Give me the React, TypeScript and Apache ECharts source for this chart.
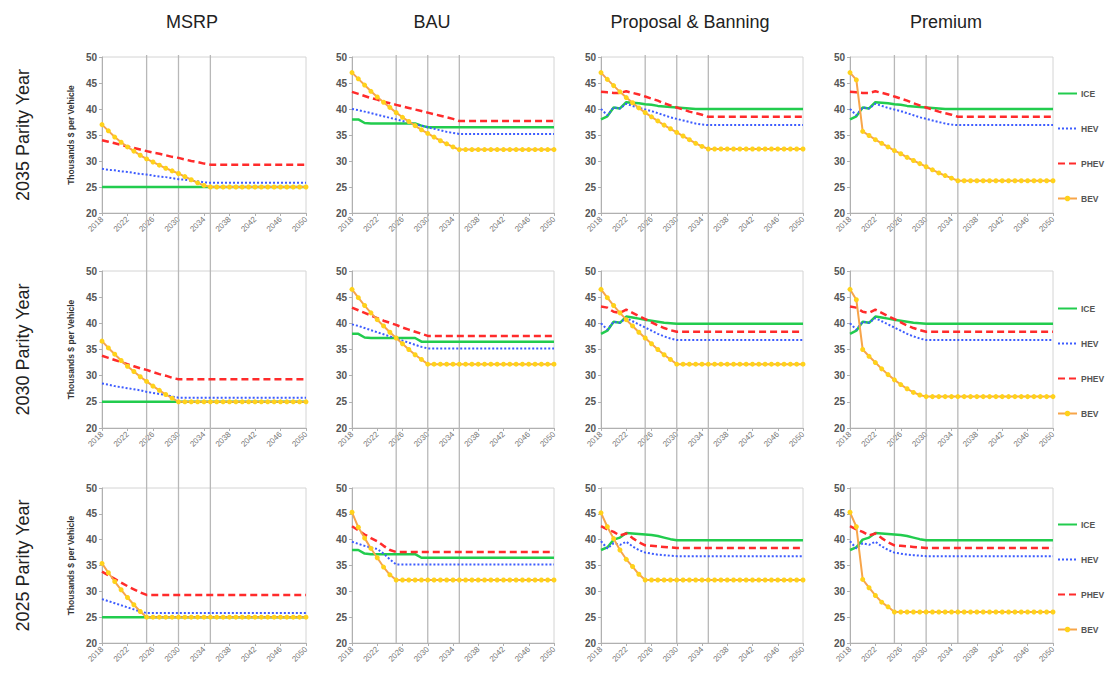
import React, { useEffect, useRef } from "react";
import * as echarts from "echarts";

// Model years on the horizontal axis
const YEARS = [
  "2018", "2019", "2020", "2021", "2022", "2023", "2024", "2025", "2026", "2027", "2028",
  "2029", "2030", "2031", "2032", "2033", "2034", "2035", "2036", "2037", "2038", "2039",
  "2040", "2041", "2042", "2043", "2044", "2045", "2046", "2047", "2048", "2049", "2050",
];
const SCENARIOS = ["MSRP", "BAU", "Proposal & Banning", "Premium"];
const ROW_LABELS = ["2035 Parity Year", "2030 Parity Year", "2025 Parity Year"];
const SERIES_NAMES = ["ICE", "HEV", "PHEV", "BEV"];
const MARKER_YEARS = ["2025", "2030", "2035"];
const Y_MIN = 20;
const Y_MAX = 50;
const Y_STEP = 5;

// ---- MSRP (all parity years share the flat ICE price) ----
const ICE_MSRP = [
  25, 25, 25, 25, 25, 25, 25, 25, 25, 25, 25, 25, 25, 25, 25, 25, 25, 25, 25, 25, 25, 25, 25, 25, 25, 25, 25, 25, 25, 25, 25, 25, 25,
];

// ---- 2035 parity year ----
const HEV_MSRP_35 = [
  28.5, 28.3, 28.2, 28.0, 27.9, 27.7, 27.5, 27.4, 27.2, 27.0, 26.9, 26.7, 26.5, 26.4, 26.2, 26.1, 25.9, 25.8,
  25.8, 25.8, 25.8, 25.8, 25.8, 25.8, 25.8, 25.8, 25.8, 25.8, 25.8, 25.8, 25.8, 25.8, 25.8,
];
const PHEV_MSRP_35 = [
  34.0, 33.7, 33.4, 33.1, 32.8, 32.5, 32.2, 31.9, 31.6, 31.4, 31.1, 30.8, 30.6, 30.3, 30.0, 29.8, 29.5, 29.3,
  29.3, 29.3, 29.3, 29.3, 29.3, 29.3, 29.3, 29.3, 29.3, 29.3, 29.3, 29.3, 29.3, 29.3, 29.3,
];
const BEV_MSRP_35 = [
  37.0, 35.8, 34.6, 33.6, 32.7, 31.9, 31.1, 30.4, 29.8, 29.2, 28.6, 28.1, 27.6, 27.0, 26.4, 25.8, 25.3, 25.0,
  25.0, 25.0, 25.0, 25.0, 25.0, 25.0, 25.0, 25.0, 25.0, 25.0, 25.0, 25.0, 25.0, 25.0, 25.0,
];
const ICE_BAU_35 = [
  38.0, 38.0, 37.3, 37.2, 37.2, 37.2, 37.2, 37.2, 37.2, 37.2, 37.2, 36.8,
  36.5, 36.5, 36.5, 36.5, 36.5, 36.5, 36.5, 36.5, 36.5, 36.5, 36.5, 36.5, 36.5, 36.5, 36.5, 36.5, 36.5, 36.5, 36.5, 36.5, 36.5,
];
const HEV_BAU_35 = [
  40.0, 39.8, 39.5, 39.2, 38.9, 38.6, 38.3, 38.0, 37.7, 37.4, 37.1, 36.8, 36.5, 36.2, 35.9, 35.6, 35.4, 35.2,
  35.2, 35.2, 35.2, 35.2, 35.2, 35.2, 35.2, 35.2, 35.2, 35.2, 35.2, 35.2, 35.2, 35.2, 35.2,
];
const PHEV_BAU_35 = [
  43.3, 42.9, 42.5, 42.1, 41.8, 41.4, 41.1, 40.8, 40.5, 40.2, 39.9, 39.6, 39.3, 39.0, 38.7, 38.4, 38.1, 37.7,
  37.7, 37.7, 37.7, 37.7, 37.7, 37.7, 37.7, 37.7, 37.7, 37.7, 37.7, 37.7, 37.7, 37.7, 37.7,
];
const BEV_BAU_35 = [
  47.0, 45.8, 44.6, 43.4, 42.3, 41.3, 40.3, 39.3, 38.4, 37.6, 36.8, 36.0, 35.3, 34.6, 33.9, 33.3, 32.7, 32.2,
  32.2, 32.2, 32.2, 32.2, 32.2, 32.2, 32.2, 32.2, 32.2, 32.2, 32.2, 32.2, 32.2, 32.2, 32.2,
];
const ICE_PB_35 = [
  38.0, 38.6, 40.3, 40.1, 41.3, 41.2, 41.1, 40.9, 40.8, 40.6, 40.5, 40.4, 40.3, 40.2, 40.1, 40.0, 40.0, 40.0,
  40.0, 40.0, 40.0, 40.0, 40.0, 40.0, 40.0, 40.0, 40.0, 40.0, 40.0, 40.0, 40.0, 40.0, 40.0,
];
const HEV_PB_35 = [
  40.0, 38.8, 40.3, 40.1, 41.0, 40.6, 40.2, 39.9, 39.6, 39.2, 38.8, 38.4, 38.1, 37.8, 37.5, 37.2, 37.0, 36.9,
  36.9, 36.9, 36.9, 36.9, 36.9, 36.9, 36.9, 36.9, 36.9, 36.9, 36.9, 36.9, 36.9, 36.9, 36.9,
];
const PHEV_PB_35 = [
  43.3, 43.2, 43.1, 43.1, 43.4, 43.1, 42.8, 42.4, 42.0, 41.6, 41.1, 40.7, 40.3, 39.9, 39.5, 39.2, 38.9, 38.5,
  38.5, 38.5, 38.5, 38.5, 38.5, 38.5, 38.5, 38.5, 38.5, 38.5, 38.5, 38.5, 38.5, 38.5, 38.5,
];
const BEV_PB_35 = [
  47.0, 45.7, 44.5, 43.3, 42.2, 41.2, 40.2, 39.3, 38.5, 37.7, 36.9, 36.2, 35.5, 34.8, 34.1, 33.4, 32.8, 32.3,
  32.3, 32.3, 32.3, 32.3, 32.3, 32.3, 32.3, 32.3, 32.3, 32.3, 32.3, 32.3, 32.3, 32.3, 32.3,
];
const BEV_PREM_35 = [
  47.0, 45.6, 35.7, 34.9, 34.1, 33.4, 32.7, 32.0, 31.4, 30.7, 30.1, 29.5, 28.9, 28.3, 27.7, 27.2, 26.7, 26.2,
  26.2, 26.2, 26.2, 26.2, 26.2, 26.2, 26.2, 26.2, 26.2, 26.2, 26.2, 26.2, 26.2, 26.2, 26.2,
];

// ---- 2030 parity year ----
const HEV_MSRP_30 = [
  28.5, 28.3, 28.0, 27.8, 27.6, 27.4, 27.2, 26.9, 26.7, 26.5, 26.3, 26.0, 25.8,
  25.8, 25.8, 25.8, 25.8, 25.8, 25.8, 25.8, 25.8, 25.8, 25.8, 25.8, 25.8, 25.8, 25.8, 25.8, 25.8, 25.8, 25.8, 25.8, 25.8,
];
const PHEV_MSRP_30 = [
  33.8, 33.4, 33.0, 32.6, 32.2, 31.8, 31.4, 31.1, 30.7, 30.3, 30.0, 29.6, 29.3,
  29.3, 29.3, 29.3, 29.3, 29.3, 29.3, 29.3, 29.3, 29.3, 29.3, 29.3, 29.3, 29.3, 29.3, 29.3, 29.3, 29.3, 29.3, 29.3, 29.3,
];
const BEV_MSRP_30 = [
  36.6, 35.3, 34.1, 32.9, 31.8, 30.8, 29.8, 28.9, 28.0, 27.2, 26.4, 25.7, 25.0,
  25.0, 25.0, 25.0, 25.0, 25.0, 25.0, 25.0, 25.0, 25.0, 25.0, 25.0, 25.0, 25.0, 25.0, 25.0, 25.0, 25.0, 25.0, 25.0, 25.0,
];
const ICE_BAU_30 = [
  38.0, 38.0, 37.3, 37.2, 37.2, 37.2, 37.2, 37.2, 37.2, 37.2, 37.2,
  36.5, 36.5, 36.5, 36.5, 36.5, 36.5, 36.5, 36.5, 36.5, 36.5, 36.5, 36.5, 36.5, 36.5, 36.5, 36.5, 36.5, 36.5, 36.5, 36.5, 36.5, 36.5,
];
const HEV_BAU_30 = [
  39.8, 39.5, 39.1, 38.7, 38.3, 37.9, 37.5, 37.1, 36.7, 36.3, 35.9, 35.5, 35.2,
  35.2, 35.2, 35.2, 35.2, 35.2, 35.2, 35.2, 35.2, 35.2, 35.2, 35.2, 35.2, 35.2, 35.2, 35.2, 35.2, 35.2, 35.2, 35.2, 35.2,
];
const PHEV_BAU_30 = [
  43.0, 42.5, 42.0, 41.5, 41.0, 40.5, 40.1, 39.7, 39.2, 38.8, 38.4, 38.0, 37.6,
  37.6, 37.6, 37.6, 37.6, 37.6, 37.6, 37.6, 37.6, 37.6, 37.6, 37.6, 37.6, 37.6, 37.6, 37.6, 37.6, 37.6, 37.6, 37.6, 37.6,
];
const BEV_BAU_30 = [
  46.5, 44.9, 43.4, 42.0, 40.7, 39.5, 38.3, 37.2, 36.1, 35.0, 34.0, 33.1, 32.2,
  32.2, 32.2, 32.2, 32.2, 32.2, 32.2, 32.2, 32.2, 32.2, 32.2, 32.2, 32.2, 32.2, 32.2, 32.2, 32.2, 32.2, 32.2, 32.2, 32.2,
];
const ICE_PB_30 = [
  38.0, 38.6, 40.3, 40.1, 41.3, 41.1, 40.9, 40.7, 40.5, 40.3, 40.1, 40.0, 39.9,
  39.9, 39.9, 39.9, 39.9, 39.9, 39.9, 39.9, 39.9, 39.9, 39.9, 39.9, 39.9, 39.9, 39.9, 39.9, 39.9, 39.9, 39.9, 39.9, 39.9,
];
const HEV_PB_30 = [
  40.0, 38.8, 40.3, 40.1, 41.0, 40.4, 39.8, 39.2, 38.6, 38.0, 37.5, 37.1, 36.8,
  36.8, 36.8, 36.8, 36.8, 36.8, 36.8, 36.8, 36.8, 36.8, 36.8, 36.8, 36.8, 36.8, 36.8, 36.8, 36.8, 36.8, 36.8, 36.8, 36.8,
];
const PHEV_PB_30 = [
  43.2, 43.0, 42.2, 42.0, 42.6, 42.0, 41.4, 40.8, 40.2, 39.6, 39.1, 38.7, 38.4,
  38.4, 38.4, 38.4, 38.4, 38.4, 38.4, 38.4, 38.4, 38.4, 38.4, 38.4, 38.4, 38.4, 38.4, 38.4, 38.4, 38.4, 38.4, 38.4, 38.4,
];
const BEV_PB_30 = [
  46.5, 44.9, 43.4, 42.0, 40.7, 39.5, 38.3, 37.2, 36.1, 35.0, 34.0, 33.1, 32.2,
  32.2, 32.2, 32.2, 32.2, 32.2, 32.2, 32.2, 32.2, 32.2, 32.2, 32.2, 32.2, 32.2, 32.2, 32.2, 32.2, 32.2, 32.2, 32.2, 32.2,
];
const BEV_PREM_30 = [
  46.5, 44.5, 35.0, 33.7, 32.5, 31.3, 30.2, 29.2, 28.3, 27.5, 26.8, 26.3, 26.0,
  26.0, 26.0, 26.0, 26.0, 26.0, 26.0, 26.0, 26.0, 26.0, 26.0, 26.0, 26.0, 26.0, 26.0, 26.0, 26.0, 26.0, 26.0, 26.0, 26.0,
];

// ---- 2025 parity year ----
const HEV_MSRP_25 = [
  28.5, 28.1, 27.7, 27.3, 26.9, 26.5, 26.1, 25.8,
  25.8, 25.8, 25.8, 25.8, 25.8, 25.8, 25.8, 25.8, 25.8, 25.8, 25.8, 25.8, 25.8, 25.8, 25.8, 25.8, 25.8, 25.8, 25.8, 25.8, 25.8, 25.8, 25.8, 25.8, 25.8,
];
const PHEV_MSRP_25 = [
  33.8, 33.1, 32.4, 31.7, 31.0, 30.4, 29.8, 29.3,
  29.3, 29.3, 29.3, 29.3, 29.3, 29.3, 29.3, 29.3, 29.3, 29.3, 29.3, 29.3, 29.3, 29.3, 29.3, 29.3, 29.3, 29.3, 29.3, 29.3, 29.3, 29.3, 29.3, 29.3, 29.3,
];
const BEV_MSRP_25 = [
  35.4, 33.6, 31.9, 30.3, 28.8, 27.4, 26.1, 25.0,
  25.0, 25.0, 25.0, 25.0, 25.0, 25.0, 25.0, 25.0, 25.0, 25.0, 25.0, 25.0, 25.0, 25.0, 25.0, 25.0, 25.0, 25.0, 25.0, 25.0, 25.0, 25.0, 25.0, 25.0, 25.0,
];
const ICE_BAU_25 = [
  38.0, 38.0, 37.3, 37.2, 37.2, 37.2, 37.2, 37.2, 37.2, 37.2, 37.2,
  36.5, 36.5, 36.5, 36.5, 36.5, 36.5, 36.5, 36.5, 36.5, 36.5, 36.5, 36.5, 36.5, 36.5, 36.5, 36.5, 36.5, 36.5, 36.5, 36.5, 36.5, 36.5,
];
const HEV_BAU_25 = [
  39.6, 39.2, 38.8, 38.5, 38.2, 37.3, 36.2, 35.2,
  35.2, 35.2, 35.2, 35.2, 35.2, 35.2, 35.2, 35.2, 35.2, 35.2, 35.2, 35.2, 35.2, 35.2, 35.2, 35.2, 35.2, 35.2, 35.2, 35.2, 35.2, 35.2, 35.2, 35.2, 35.2,
];
const PHEV_BAU_25 = [
  42.6, 41.8, 41.0, 40.3, 39.7, 38.8, 38.0, 37.6,
  37.6, 37.6, 37.6, 37.6, 37.6, 37.6, 37.6, 37.6, 37.6, 37.6, 37.6, 37.6, 37.6, 37.6, 37.6, 37.6, 37.6, 37.6, 37.6, 37.6, 37.6, 37.6, 37.6, 37.6, 37.6,
];
const BEV_BAU_25 = [
  45.3, 42.4, 40.3, 38.3, 36.5, 34.7, 33.2, 32.2,
  32.2, 32.2, 32.2, 32.2, 32.2, 32.2, 32.2, 32.2, 32.2, 32.2, 32.2, 32.2, 32.2, 32.2, 32.2, 32.2, 32.2, 32.2, 32.2, 32.2, 32.2, 32.2, 32.2, 32.2, 32.2,
];
const ICE_PB_25 = [
  38.0, 38.5, 40.0, 40.4, 41.3, 41.2, 41.1, 41.0, 40.9, 40.7, 40.4, 40.1, 39.9,
  39.9, 39.9, 39.9, 39.9, 39.9, 39.9, 39.9, 39.9, 39.9, 39.9, 39.9, 39.9, 39.9, 39.9, 39.9, 39.9, 39.9, 39.9, 39.9, 39.9,
];
const HEV_PB_25 = [
  39.7, 38.3, 39.3, 39.0, 39.6, 38.7, 38.0, 37.5, 37.3, 37.1, 37.0, 36.9, 36.8,
  36.8, 36.8, 36.8, 36.8, 36.8, 36.8, 36.8, 36.8, 36.8, 36.8, 36.8, 36.8, 36.8, 36.8, 36.8, 36.8, 36.8, 36.8, 36.8, 36.8,
];
const PHEV_PB_25 = [
  42.6, 42.0, 41.5, 40.8, 41.2, 40.3, 39.5, 38.9, 38.8, 38.7, 38.6, 38.5, 38.4,
  38.4, 38.4, 38.4, 38.4, 38.4, 38.4, 38.4, 38.4, 38.4, 38.4, 38.4, 38.4, 38.4, 38.4, 38.4, 38.4, 38.4, 38.4, 38.4, 38.4,
];
const BEV_PB_25 = [
  45.2, 42.5, 40.2, 38.0, 36.2, 34.8, 33.3, 32.2,
  32.2, 32.2, 32.2, 32.2, 32.2, 32.2, 32.2, 32.2, 32.2, 32.2, 32.2, 32.2, 32.2, 32.2, 32.2, 32.2, 32.2, 32.2, 32.2, 32.2, 32.2, 32.2, 32.2, 32.2, 32.2,
];
const BEV_PREM_25 = [
  45.3, 42.5, 32.3, 30.7, 29.2, 27.9, 27.0, 26.0,
  26.0, 26.0, 26.0, 26.0, 26.0, 26.0, 26.0, 26.0, 26.0, 26.0, 26.0, 26.0, 26.0, 26.0, 26.0, 26.0, 26.0, 26.0, 26.0, 26.0, 26.0, 26.0, 26.0, 26.0, 26.0,
];

// Panels by row (parity year) then column (scenario): [ICE, HEV, PHEV, BEV]
const PANELS = [
  [
    [ICE_MSRP, HEV_MSRP_35, PHEV_MSRP_35, BEV_MSRP_35],
    [ICE_BAU_35, HEV_BAU_35, PHEV_BAU_35, BEV_BAU_35],
    [ICE_PB_35, HEV_PB_35, PHEV_PB_35, BEV_PB_35],
    [ICE_PB_35, HEV_PB_35, PHEV_PB_35, BEV_PREM_35],
  ],
  [
    [ICE_MSRP, HEV_MSRP_30, PHEV_MSRP_30, BEV_MSRP_30],
    [ICE_BAU_30, HEV_BAU_30, PHEV_BAU_30, BEV_BAU_30],
    [ICE_PB_30, HEV_PB_30, PHEV_PB_30, BEV_PB_30],
    [ICE_PB_30, HEV_PB_30, PHEV_PB_30, BEV_PREM_30],
  ],
  [
    [ICE_MSRP, HEV_MSRP_25, PHEV_MSRP_25, BEV_MSRP_25],
    [ICE_BAU_25, HEV_BAU_25, PHEV_BAU_25, BEV_BAU_25],
    [ICE_PB_25, HEV_PB_25, PHEV_PB_25, BEV_PB_25],
    [ICE_PB_25, HEV_PB_25, PHEV_PB_25, BEV_PREM_25],
  ],
];

// Layout of the small multiples
const COLS = [
  { left: 102, width: 204, titleX: 192 },
  { left: 352, width: 202, titleX: 432 },
  { left: 601, width: 202, titleX: 690 },
  { left: 850, width: 203, titleX: 946 },
];
const ROWS = [
  { top: 57, height: 156, legendTop: 89 },
  { top: 271, height: 157, legendTop: 304 },
  { top: 488, height: 155, legendTop: 520 },
];

const FONT = "'Liberation Sans', Arial, sans-serif";
const NO_MARK = "rgba(0,0,0,0)";

const LINE_STYLES: any[] = [
  { symbol: "none", lineStyle: { color: "#22cc4e", width: 2.5 }, itemStyle: { color: NO_MARK }, z: 3 },
  { symbol: "none", lineStyle: { color: "#3d5cff", width: 2, type: [2, 2] }, itemStyle: { color: NO_MARK }, z: 4 },
  { symbol: "none", lineStyle: { color: "#ff2b2b", width: 2.5, type: [7, 4] }, itemStyle: { color: NO_MARK }, z: 5 },
  {
    symbol: "circle",
    symbolSize: 5,
    showSymbol: true,
    showAllSymbol: true,
    lineStyle: { color: "#f7a54a", width: 2 },
    itemStyle: { color: "#ffd21a" },
    z: 6,
  },
];

function buildOption() {
  const grid: any[] = [];
  const xAxis: any[] = [];
  const yAxis: any[] = [];
  const series: any[] = [];
  ROWS.forEach((row, r) => {
    COLS.forEach((col, c) => {
      const g = r * 4 + c;
      grid.push({
        left: col.left,
        top: row.top,
        width: col.width,
        height: row.height,
        show: true,
        borderColor: "#d4d4d4",
        borderWidth: 1,
        backgroundColor: "transparent",
      });
      xAxis.push({
        type: "category",
        gridIndex: g,
        data: YEARS,
        boundaryGap: false,
        axisLine: { lineStyle: { color: "#b0b0b0" } },
        axisTick: { interval: 3, length: 3, lineStyle: { color: "#b0b0b0" } },
        axisLabel: { interval: 3, rotate: 45, fontSize: 8, color: "#777", margin: 5, fontFamily: FONT },
        splitLine: { show: false },
      });
      yAxis.push({
        type: "value",
        gridIndex: g,
        min: Y_MIN,
        max: Y_MAX,
        interval: Y_STEP,
        axisLine: { show: true, lineStyle: { color: "#b0b0b0" } },
        axisTick: { show: true, length: 3, lineStyle: { color: "#b0b0b0" } },
        axisLabel: { fontSize: 10, fontWeight: "bold", color: "#555", margin: 5, fontFamily: FONT },
        splitLine: { show: false },
        name: c === 0 ? "Thousands $ per Vehicle" : "",
        nameLocation: "middle",
        nameGap: 27,
        nameTextStyle: { fontSize: 8.5, fontWeight: "bold", color: "#333", fontFamily: FONT },
      });
      PANELS[r][c].forEach((data, k) => {
        series.push({
          name: SERIES_NAMES[k],
          type: "line",
          xAxisIndex: g,
          yAxisIndex: g,
          data,
          silent: true,
          ...LINE_STYLES[k],
        });
      });
    });
  });

  const legend = ROWS.map((row) => ({
    orient: "vertical",
    left: 1057,
    top: row.legendTop,
    padding: 0,
    itemWidth: 19,
    itemHeight: 7,
    itemGap: 26,
    selectedMode: false,
    data: SERIES_NAMES,
    textStyle: { fontSize: 8.5, fontWeight: "bold", color: "#555", fontFamily: FONT, padding: [0, 0, 0, -1] },
  }));

  return {
    animation: false,
    backgroundColor: "#ffffff",
    textStyle: { fontFamily: FONT },
    grid,
    xAxis,
    yAxis,
    legend,
    series,
  };
}

function buildLabels() {
  const titles = COLS.map((col, c) => ({
    type: "text",
    x: col.titleX,
    y: 22,
    style: {
      text: SCENARIOS[c],
      fontSize: 18,
      fontFamily: FONT,
      fill: "#222",
      textAlign: "center",
      textVerticalAlign: "middle",
    },
  }));
  const rowLabels = ROWS.map((row, r) => ({
    type: "text",
    x: 23,
    y: row.top + row.height / 2,
    rotation: Math.PI / 2,
    style: {
      text: ROW_LABELS[r],
      fontSize: 18,
      fontFamily: FONT,
      fill: "#222",
      textAlign: "center",
      textVerticalAlign: "middle",
    },
  }));
  return [...titles, ...rowLabels];
}

export default function App() {
  const ref = useRef<HTMLDivElement>(null);

  useEffect(() => {
    if (!ref.current) return;
    const chart = echarts.init(ref.current, null, { renderer: "svg" });
    chart.setOption(buildOption());

    // Parity-year reference lines, running through all three rows of each column
    const yTop = ROWS[0].top - 2;
    const yBottom = ROWS[2].top + ROWS[2].height;
    const guides: any[] = [];
    COLS.forEach((_, c) => {
      MARKER_YEARS.forEach((yr) => {
        const x = chart.convertToPixel({ xAxisIndex: c }, YEARS.indexOf(yr)) as number;
        guides.push({
          type: "line",
          shape: { x1: x, y1: yTop, x2: x, y2: yBottom },
          style: { stroke: "#b8b8b8", lineWidth: 1.3 },
          silent: true,
          z: 1,
        });
      });
    });
    chart.setOption({ graphic: { elements: [...buildLabels(), ...guides] } });

    return () => chart.dispose();
  }, []);

  return (
    <div
      ref={ref}
      style={{ position: "fixed", left: 0, top: 0, width: 1109, height: 677, background: "#fff" }}
    />
  );
}
